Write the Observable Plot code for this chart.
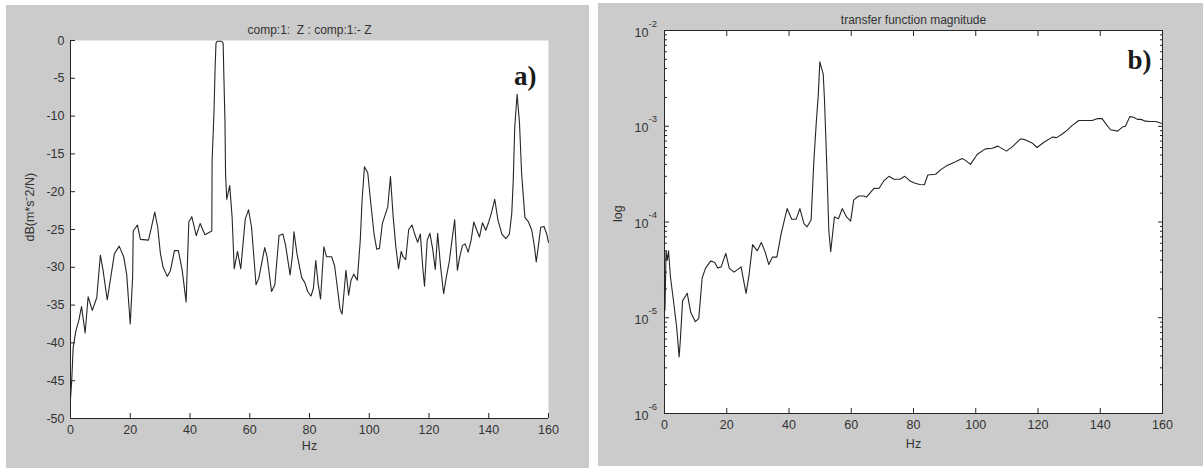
<!DOCTYPE html>
<html><head><meta charset="utf-8">
<script src="https://cdn.jsdelivr.net/npm/d3@7"></script>
<script src="https://cdn.jsdelivr.net/npm/@observablehq/plot@0.6"></script>
<style>
html,body{margin:0;padding:0;background:#fff;width:1203px;height:468px;overflow:hidden;}
#a{position:absolute;left:6px;top:5px;}
#b{position:absolute;left:598px;top:3px;}
svg{display:block;}
</style></head><body>
<div id="a"></div><div id="b"></div>
<script>
// ---- Panel a data: dB(m*s^-2/N) vs Hz ----
const aHz = [
  0,0.4,0.9,1.8,2.8,3.7,4.9,5.9,7.3,8.8,
  10,10.9,12.3,14.7,16.3,17.8,18.8,20,20.8,21,
  22.4,23.4,26.1,27.1,28.2,29.2,30.1,31,32.4,33.4,
  34.8,36.1,37.4,38.7,39.6,40.6,42.1,43.4,45,47.3,
  47.4,48,48.4,48.7,49.1,50.6,51.1,51.3,51.7,51.9,52.3,
  53.3,54.1,54.8,55.9,57,58.5,59.6,60.6,62.1,63,
  65,65.8,67.3,68.4,69.8,71.1,72,73.5,74.3,74.8,
  75.8,77.4,78.4,79.4,80.5,81.3,82.1,82.9,83.7,84.8,
  85.7,87.4,88.4,89.3,90.2,90.9,91.6,92.2,93.1,93.9,
  94.8,96,97,97.6,98.4,99.5,100.4,101.6,102.5,103.4,
  104.4,105.3,106.2,107.1,108,108.9,109.8,110.7,111.3,112.2,
  113.2,114.3,115.2,116.2,117.1,117.9,118.5,119.4,120.3,121.2,
  122.1,122.9,123.9,124.9,125.8,126.8,127.7,128.6,129.5,130.3,
  131.2,132.1,133.1,134.1,135,136,136.9,137.9,139,140,
  140.9,142,143.1,144.4,145.7,146.9,147.7,148.2,148.7,149.5,
  150.3,151,152.1,153.3,154.4,155.3,155.9,156.7,157.4,158.5,
  159.4,160
];
const aDb = [
  -47.4,-45,-40.6,-38.4,-37,-35.2,-38.7,-33.9,-35.7,-34,
  -28.4,-30.4,-34.3,-28.2,-27.2,-28.6,-30.9,-37.5,-31.3,-25.2,
  -24.4,-26.3,-26.4,-24.7,-22.7,-24.7,-28.2,-30,-31.2,-30.5,
  -27.8,-27.8,-30.4,-34.6,-24,-23.3,-25.8,-24.2,-25.7,-25.2,
  -15.8,-9.9,-3.7,-0.35,-0.1,-0.1,-0.35,-4.1,-10.6,-17.6,-21,
  -19.2,-23.4,-30.2,-27.9,-30.2,-23.6,-22.4,-24.7,-32.3,-31.5,
  -27.4,-28.6,-33.2,-32.3,-25.8,-25.6,-27.1,-31,-28.4,-25.3,
  -28.2,-31.4,-32,-33.2,-33.8,-32.8,-29.1,-32.2,-34.2,-27.3,
  -28.6,-28.6,-29.8,-32.6,-35.5,-36.2,-33.1,-30.4,-33.7,-31.7,
  -30.9,-31.7,-26.4,-21.1,-16.7,-17.5,-21.1,-25.6,-27.6,-27.5,
  -24.2,-23.1,-22,-18,-23.3,-27.3,-30.2,-27.9,-28.6,-29,
  -25,-24.4,-25.6,-26.7,-25.6,-30,-32.5,-26.4,-25.5,-27.5,
  -30.3,-25.5,-30,-33.5,-31.3,-29.2,-26.4,-23.7,-30.4,-28.6,
  -27.1,-26.9,-28,-26.4,-24,-25.1,-26,-24.1,-25.1,-24,
  -22.8,-21,-23.8,-25.6,-26.2,-25.6,-22.9,-18.5,-11.4,-7.1,
  -11,-17.6,-23.4,-24,-25.1,-27.3,-29.3,-26.9,-24.7,-24.6,
  -25.6,-26.7
];
// ---- Panel b data: transfer function magnitude vs Hz ----
const bHz = [
  0,0.15,0.5,0.9,1.3,1.9,3,3.9,4.7,5.1,
  5.8,7.3,8.4,9.9,11,12.1,13.2,14.8,16.1,17.1,
  18.2,19.7,20.8,22.3,23.6,24.6,26.2,27.1,28.3,29.8,
  31.1,32.3,33.5,34.7,36.1,37.5,39.4,40.9,42.3,43.5,
  44.8,45.8,47.1,48,48.8,49.4,49.9,51,51.4,52.3,
  52.8,53.4,54.6,55.9,57.1,58.5,59.8,60.8,62.4,64,
  64.9,67.3,68.9,70.5,72.1,73.7,75.6,77.2,78.8,80.3,
  82,83.5,84.6,87.1,88.7,90.8,93.5,95.6,96.7,98.3,
  100.5,103.1,105.3,107.1,109.9,112,114.4,116,118.1,119.7,
  121.9,124.6,126,127.8,129.4,131,133.1,135.3,137.4,139,
  140.6,141.7,143.3,145.6,147.1,148.1,149.5,150.8,151.9,153.1,
  154.5,156.1,157.8,159.9
];
const bMag = [
  2.1e-5,1.2e-5,5e-5,4e-5,5e-5,2.7e-5,1.4e-5,8e-6,3.9e-6,5.9e-6,
  1.5e-5,1.8e-5,1.15e-5,9.1e-6,9.8e-6,2.6e-5,3.3e-5,3.9e-5,3.8e-5,3.3e-5,
  3.4e-5,4.7e-5,3.3e-5,3e-5,3.2e-5,3.4e-5,1.8e-5,2.7e-5,5.8e-5,5e-5,
  6.1e-5,4.9e-5,3.6e-5,4.3e-5,4.3e-5,7.6e-5,1.38e-4,1.07e-4,1.07e-4,1.38e-4,
  9.6e-5,8.9e-5,1.05e-4,4.4e-4,1.15e-3,2.1e-3,4.7e-3,3.5e-3,1.9e-3,2.7e-4,
  8.1e-5,4.9e-5,1.13e-4,1.08e-4,1.38e-4,1.13e-4,1.02e-4,1.7e-4,1.87e-4,1.87e-4,
  1.82e-4,2.25e-4,2.24e-4,2.7e-4,3e-4,2.8e-4,2.8e-4,3e-4,2.7e-4,2.55e-4,
  2.46e-4,2.45e-4,3.1e-4,3.15e-4,3.5e-4,3.9e-4,4.25e-4,4.6e-4,4.4e-4,4e-4,
  5.1e-4,5.8e-4,5.9e-4,6.2e-4,5.5e-4,6.2e-4,7.4e-4,7.2e-4,6.7e-4,6e-4,
  6.8e-4,7.7e-4,7.6e-4,8.3e-4,9.1e-4,1.02e-3,1.15e-3,1.15e-3,1.15e-3,1.2e-3,
  1.2e-3,1.07e-3,9.2e-4,8.9e-4,9.8e-4,1e-3,1.26e-3,1.24e-3,1.18e-3,1.18e-3,
  1.13e-3,1.12e-3,1.12e-3,1.07e-3
];
// ---- ticks & text ----
const xTicks = [0,20,40,60,80,100,120,140,160];
const aYTicks = [0,-5,-10,-15,-20,-25,-30,-35,-40,-45,-50];
const bMajor = [1e-2,1e-3,1e-4,1e-5,1e-6];
const bExp = ["-2","-3","-4","-5","-6"];
const bMinorMult = [2,3,4,5,6,7,8,9];
const bMinor = bMajor.slice(1).flatMap(d => bMinorMult.map(m => m*d));
const titleA = "comp:1:  Z : comp:1:- Z";
const labelA = "dB(m*s\u207B2/N)";
const titleB = "transfer function magnitude";
const labelB = "log";
const xLabel = "Hz";

const ink = "#262626";
const txt = "#333";
const gray = "#cbcbcb";
const sans = "'Liberation Sans', Arial, Helvetica, sans-serif";
const serif = "'Liberation Serif', 'Times New Roman', serif";
const style = {background: gray, fontFamily: sans, fontSize: "12px", color: txt, overflow: "visible"};
const fs = 12.5;

const dataA = aHz.map((f, i) => ({f, v: aDb[i]}));
const dataB = bHz.map((f, i) => ({f, v: bMag[i]}));

const plotA = Plot.plot({
  width: 583, height: 463,
  marginLeft: 64, marginRight: 41, marginTop: 35, marginBottom: 50,
  style,
  x: {domain: [0, 160]},
  y: {domain: [-50, 0]},
  marks: [
    Plot.frame({fill: "white", stroke: null}),
    Plot.line(dataA, {x: "f", y: "v", stroke: ink, strokeWidth: 1.1}),
    Plot.ruleX([0], {stroke: ink}),
    Plot.ruleY([-50], {stroke: ink}),
    Plot.axisX(xTicks, {anchor: "bottom", tickSize: -5, tickPadding: 12, tickFormat: d => String(d), label: null, fontSize: fs, stroke: ink}),
    Plot.axisY(aYTicks, {anchor: "left", tickSize: -5, tickPadding: 11, tickFormat: d => String(d), label: null, fontSize: fs, stroke: ink}),
    Plot.text([titleA], {frameAnchor: "top", dy: -15, fontSize: 12}),
    Plot.text([labelA], {frameAnchor: "left", dx: -41, dy: 12, rotate: -90, fontSize: fs}),
    Plot.text([xLabel], {frameAnchor: "bottom", dy: 31, fontSize: fs}),
    Plot.text(["a)"], {frameAnchor: "top-right", dx: -12, dy: 25, textAnchor: "end", fontFamily: serif, fontWeight: "bold", fontSize: 27, fill: "#1a1a1a"})
  ]
});

const plotB = Plot.plot({
  width: 605, height: 463,
  marginLeft: 66, marginRight: 41, marginTop: 27, marginBottom: 53,
  style,
  x: {domain: [0, 160]},
  y: {type: "log", domain: [1e-6, 1e-2]},
  marks: [
    Plot.frame({fill: "white", stroke: null}),
    Plot.line(dataB, {x: "f", y: "v", stroke: ink, strokeWidth: 1.1}),
    Plot.axisX(xTicks, {anchor: "bottom", tickSize: -5, tickPadding: 12, tickFormat: d => String(d), label: null, fontSize: fs, stroke: ink}),
    Plot.axisX(xTicks, {anchor: "top", tickSize: -5, tickFormat: () => "", label: null, stroke: ink}),
    Plot.axisY(bMajor, {anchor: "left", tickSize: -5, tickFormat: () => "", label: null, stroke: ink}),
    Plot.axisY(bMajor, {anchor: "right", tickSize: -5, tickFormat: () => "", label: null, stroke: ink}),
    Plot.axisY(bMinor, {anchor: "left", tickSize: -3, tickFormat: () => "", label: null, stroke: ink}),
    Plot.axisY(bMinor, {anchor: "right", tickSize: -3, tickFormat: () => "", label: null, stroke: ink}),
    Plot.text(bMajor, {y: d => d, frameAnchor: "left", text: () => "10", textAnchor: "end", dx: -16, dy: 2, fontSize: fs}),
    Plot.text(bMajor, {y: d => d, frameAnchor: "left", text: (d, i) => bExp[i], textAnchor: "start", dx: -16, dy: -7, fontSize: 9.5}),
    Plot.frame({stroke: ink}),
    Plot.text([titleB], {frameAnchor: "top", dy: -15, fontSize: 12}),
    Plot.text([labelB], {frameAnchor: "left", dx: -47, rotate: -90, fontSize: fs}),
    Plot.text([xLabel], {frameAnchor: "bottom", dy: 34, fontSize: fs}),
    Plot.text(["b)"], {frameAnchor: "top-right", dx: -11, dy: 19, textAnchor: "end", fontFamily: serif, fontWeight: "bold", fontSize: 27, fill: "#1a1a1a"})
  ]
});

document.getElementById("a").appendChild(plotA);
document.getElementById("b").appendChild(plotB);
</script></body></html>
